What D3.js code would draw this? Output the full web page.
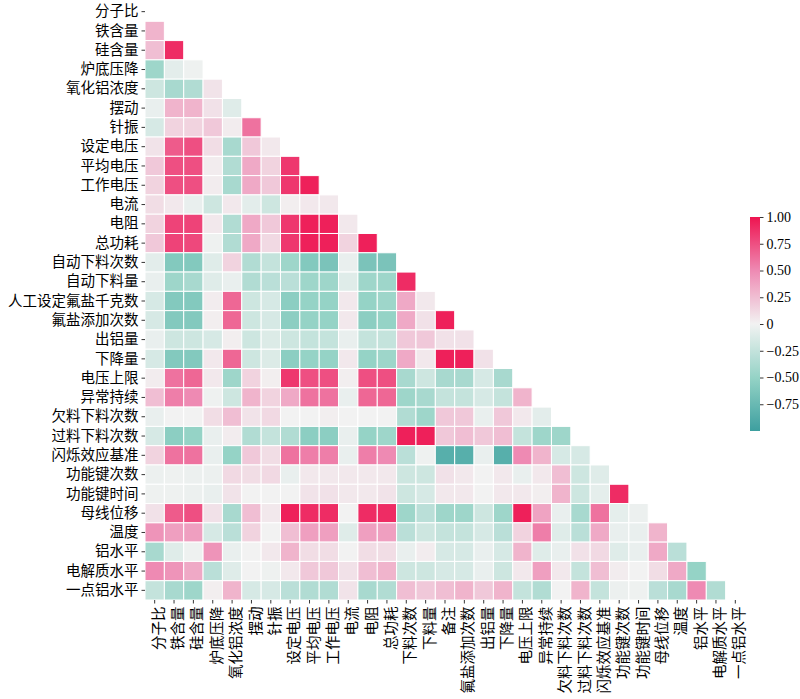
<!DOCTYPE html>
<html>
<head>
<meta charset="utf-8">
<script src="https://cdn.jsdelivr.net/npm/d3@7"></script>
<style>
  body { margin: 0; background: #fff; }
  svg text { fill: #000; }
</style>
</head>
<body>
<script>
// row labels (left) and column labels (bottom) differ slightly in the source chart
var labelsY = ["分子比", "铁含量", "硅含量", "炉底压降", "氧化铝浓度", "摆动", "针振", "设定电压", "平均电压", "工作电压",
  "电流", "电阻", "总功耗", "自动下料次数", "自动下料量", "人工设定氟盐千克数", "氟盐添加次数", "出铝量", "下降量",
  "电压上限", "异常持续", "欠料下料次数", "过料下料次数", "闪烁效应基准", "功能键次数", "功能键时间", "母线位移",
  "温度", "铝水平", "电解质水平", "一点铝水平"];
var labelsX = ["分子比", "铁含量", "硅含量", "炉底压降", "氧化铝浓度", "摆动", "针振", "设定电压", "平均电压", "工作电压",
  "电流", "电阻", "总功耗", "下料次数", "下料量", "备注", "氟盐添加次数", "出铝量", "下降量",
  "电压上限", "异常持续", "欠料下料次数", "过料下料次数", "闪烁效应基准", "功能键次数", "功能键时间", "母线位移",
  "温度", "铝水平", "电解质水平", "一点铝水平"];

// lower triangle of the correlation matrix, row i holds columns 0..i-1
var corr = [
  [],
  [0.3],
  [0.25, 0.9],
  [-0.45, -0.08, -0.02],
  [-0.2, -0.4, -0.35, 0.07],
  [-0.05, 0.3, 0.3, 0.08, -0.1],
  [-0.15, 0.15, 0.15, 0.2, 0.03, 0.6],
  [0.07, 0.7, 0.75, 0.1, -0.4, 0.2, 0.05],
  [0.2, 0.75, 0.75, 0.03, -0.35, 0.35, 0.15, 0.85],
  [0.15, 0.75, 0.75, 0.03, -0.4, 0.35, 0.2, 0.85, 0.95],
  [0.1, 0.05, -0.05, -0.2, 0.05, -0.08, -0.2, 0.02, 0.05, 0.05],
  [0.15, 0.8, 0.8, 0.05, -0.35, 0.35, 0.2, 0.85, 0.95, 0.95, 0.05],
  [0.2, 0.8, 0.78, -0.02, -0.35, 0.35, 0.12, 0.85, 0.95, 0.95, 0.15, 0.95],
  [-0.08, -0.6, -0.6, -0.1, 0.15, -0.35, -0.25, -0.45, -0.6, -0.65, -0.05, -0.65, -0.65],
  [-0.05, -0.45, -0.4, -0.1, -0.05, -0.35, -0.3, -0.3, -0.45, -0.45, -0.1, -0.45, -0.45, 0.9],
  [-0.15, -0.6, -0.6, 0.03, 0.65, -0.2, -0.15, -0.55, -0.5, -0.5, 0.05, -0.5, -0.45, 0.35, 0.05],
  [-0.15, -0.6, -0.6, 0.02, 0.65, -0.2, -0.15, -0.55, -0.5, -0.5, 0.05, -0.55, -0.5, 0.35, 0.08, 0.95],
  [-0.05, -0.2, -0.2, -0.15, 0.02, -0.2, -0.12, -0.2, -0.25, -0.25, -0.05, -0.25, -0.25, 0.2, 0.2, 0.08, 0.08],
  [-0.15, -0.6, -0.6, 0.05, 0.65, -0.2, -0.12, -0.55, -0.5, -0.5, 0.05, -0.5, -0.45, 0.35, 0.05, 0.95, 0.95, 0.08],
  [0.03, 0.6, 0.65, 0.05, -0.45, 0.15, 0.02, 0.85, 0.75, 0.75, 0.02, 0.75, 0.75, -0.4, -0.2, -0.4, -0.4, -0.15, -0.4],
  [0.25, 0.55, 0.5, -0.02, -0.2, 0.3, 0.15, 0.35, 0.6, 0.6, -0.05, 0.65, 0.65, -0.45, -0.4, -0.25, -0.25, -0.15, -0.25, 0.3],
  [-0.05, 0, 0, 0.1, 0.25, 0.07, 0.12, 0, 0, 0.02, 0, 0, 0, -0.35, -0.45, 0.2, 0.2, -0.05, 0.2, 0.05, -0.08],
  [-0.15, -0.55, -0.5, -0.05, 0.03, -0.35, -0.25, -0.35, -0.55, -0.55, -0.05, -0.5, -0.45, 0.95, 0.95, 0.2, 0.25, 0.2, 0.25, -0.25, -0.45, -0.45],
  [0.15, 0.6, 0.6, -0.05, -0.5, 0.2, 0.1, 0.6, 0.55, 0.55, -0.05, 0.55, 0.5, -0.3, -0.02, -0.85, -0.85, -0.05, -0.85, 0.5, 0.3, -0.15, -0.15],
  [-0.03, -0.02, -0.03, -0.03, 0.12, 0.1, 0.12, -0.05, 0.05, 0.05, 0.05, 0.05, 0.05, -0.2, -0.2, 0.08, 0.05, 0, 0.05, -0.05, 0.05, 0.25, -0.2, -0.1],
  [-0.02, -0.02, -0.03, -0.05, 0.07, 0, 0, 0, 0.07, 0.08, 0.05, 0.05, 0.07, -0.2, -0.15, 0.05, 0.05, 0, 0.05, 0.05, 0.02, 0.3, -0.2, -0.07, 0.9],
  [0.08, 0.7, 0.75, 0.08, -0.4, 0.25, 0.05, 0.95, 0.9, 0.9, 0, 0.9, 0.9, -0.45, -0.3, -0.45, -0.45, -0.2, -0.45, 0.95, 0.38, -0.05, -0.4, 0.6, -0.07, -0.03],
  [0.45, 0.4, 0.4, -0.15, -0.3, 0.15, 0, 0.25, 0.4, 0.4, -0.1, 0.4, 0.4, -0.3, -0.2, -0.25, -0.25, -0.15, -0.3, 0.15, 0.55, -0.1, -0.3, 0.35, -0.05, -0.05, 0.3],
  [-0.4, -0.1, -0.02, 0.45, -0.05, 0, 0.05, 0.3, 0.1, 0.1, 0, 0.1, 0.1, -0.05, 0.03, -0.15, -0.15, -0.05, -0.15, 0.3, -0.1, -0.05, 0.08, 0.12, -0.1, -0.05, 0.35, -0.3],
  [0.5, 0.45, 0.35, -0.3, -0.1, 0, -0.02, 0.05, 0.2, 0.2, 0.08, 0.25, 0.3, -0.2, -0.2, -0.15, -0.15, -0.05, -0.2, 0.05, 0.4, 0.05, -0.25, 0.25, 0.03, 0, 0.1, 0.35, -0.5],
  [-0.25, -0.4, -0.45, 0.02, 0.3, -0.15, -0.15, -0.3, -0.35, -0.35, 0.07, -0.4, -0.35, 0.25, 0.2, 0.25, 0.3, 0.2, 0.3, -0.25, -0.35, 0, 0.3, -0.25, -0.03, -0.02, -0.3, -0.4, 0.5, -0.35]
];

var cbTicks = [1, 0.75, 0.5, 0.25, 0, -0.25, -0.5, -0.75];

var svgWidth = 800;
var svgHeight = 699;
var margin = { top: 2, left: 145 };
var width = 600;
var height = 598;

var svg = d3.select("body")
  .append("svg")
  .attr("width", svgWidth)
  .attr("height", svgHeight);

var chartGroup = svg.append("g")
  .attr("transform", `translate(${margin.left}, ${margin.top})`);

var n = labelsY.length;
var xScale = d3.scaleBand().domain(d3.range(n)).range([0, width]);
var yScale = d3.scaleBand().domain(d3.range(n)).range([0, height]);

// teal -> light grey -> crimson, with extra stops so the mid tones stay saturated
var color = d3.scaleLinear()
  .domain([-1, -0.5, 0, 0.5, 1])
  .range(["#3d9f9f", "#95d3c6", "#f2f2f2", "#ee8ab3", "#ee1450"]);

// flatten the triangle into cells
var cells = [];
corr.forEach(function (row, i) {
  row.forEach(function (v, j) {
    cells.push({ row: i, col: j, value: v });
  });
});

chartGroup.selectAll("rect.cell")
  .data(cells)
  .enter()
  .append("rect")
  .attr("class", "cell")
  .attr("x", d => xScale(d.col))
  .attr("y", d => yScale(d.row))
  .attr("width", xScale.bandwidth())
  .attr("height", yScale.bandwidth())
  .attr("fill", d => color(d.value))
  .attr("stroke", "#fff")
  .attr("stroke-width", 1);

var labelFont = "'Noto Sans CJK SC', sans-serif";

// y axis
var leftAxis = d3.axisLeft(yScale).tickSize(3.5).tickPadding(3).tickFormat(i => labelsY[i]);
var gy = chartGroup.append("g").call(leftAxis);
gy.select(".domain").remove();
gy.selectAll("line").attr("stroke", "#000").attr("stroke-width", 0.8);
gy.selectAll("text")
  .style("font-family", labelFont)
  .style("font-size", "14.5px")
  .attr("fill", "#000");

// x axis, labels rotated
var bottomAxis = d3.axisBottom(xScale).tickSize(3.5).tickFormat(i => labelsX[i]);
var gx = chartGroup.append("g")
  .attr("transform", `translate(0, ${height})`)
  .call(bottomAxis);
gx.select(".domain").remove();
gx.selectAll("line").attr("stroke", "#000").attr("stroke-width", 0.8);
gx.selectAll("text")
  .style("font-family", labelFont)
  .style("font-size", "14.5px")
  .attr("fill", "#000")
  .attr("transform", "rotate(-90)")
  .attr("text-anchor", "end")
  .attr("x", -6.5)
  .attr("y", 4)
  .attr("dy", "0.35em");

// colorbar
var cbX = 750, cbW = 10, cbTop = 217, cbBottom = 431;
var cbScale = d3.scaleLinear().domain([-1, 1]).range([cbBottom, cbTop]);

var grad = svg.append("defs").append("linearGradient")
  .attr("id", "cbgrad")
  .attr("x1", 0).attr("y1", 1).attr("x2", 0).attr("y2", 0);
d3.range(-1, 1.001, 0.1).forEach(function (v) {
  grad.append("stop")
    .attr("offset", (v + 1) / 2)
    .attr("stop-color", color(v));
});

svg.append("rect")
  .attr("x", cbX)
  .attr("y", cbTop)
  .attr("width", cbW)
  .attr("height", cbBottom - cbTop)
  .attr("fill", "url(#cbgrad)");

var cbAxis = d3.axisRight(cbScale)
  .tickValues(cbTicks)
  .tickSize(3.5)
  .tickPadding(3)
  .tickFormat(d => d === 0 ? "0" : d3.format(".2f")(d).replace("-", "\u2212"));
var gc = svg.append("g")
  .attr("transform", `translate(${cbX + cbW}, 0)`)
  .call(cbAxis);
gc.select(".domain").remove();
gc.selectAll("line").attr("stroke", "#000").attr("stroke-width", 0.8);
gc.selectAll("text")
  .style("font-family", "'Liberation Serif', 'Times New Roman', serif")
  .style("font-size", "14px")
  .attr("fill", "#000");
</script>
</body>
</html>
